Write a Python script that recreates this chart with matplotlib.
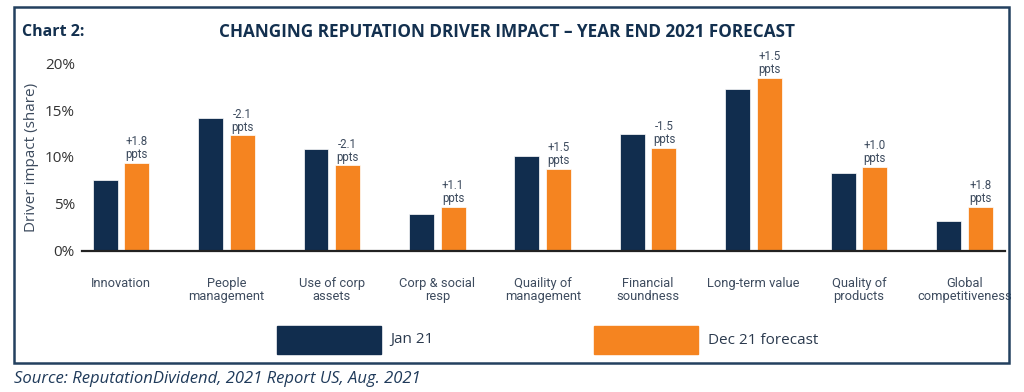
import matplotlib
matplotlib.use("Agg")
import matplotlib.pyplot as plt
from matplotlib.patches import Rectangle
import numpy as np

# data
categories = ["Innovation", "People\nmanagement", "Use of corp\nassets", "Corp & social\nresp",
              "Quaility of\nmanagement", "Financial\nsoundness", "Long-term value",
              "Quality of\nproducts", "Global\ncompetitiveness"]
jan21 = [7.6, 14.2, 10.8, 3.9, 10.1, 12.4, 17.2, 8.3, 3.2]
dec21 = [9.4, 12.3, 9.1, 4.7, 8.7, 11.0, 18.4, 8.9, 4.7]
changes = ["+1.8", "-2.1", "-2.1", "+1.1", "+1.5", "-1.5", "+1.5", "+1.0", "+1.8"]
yticks = [0, 5, 10, 15, 20]

NAVY = "#112d4e"
ORANGE = "#f58420"
TXT = "#3d4b5e"
narrow = ["Roboto", "DejaVu Sans"]

plt.rcParams["font.family"] = ["Open Sans", "DejaVu Sans"]

fig = plt.figure(figsize=(10.24, 3.92), dpi=100)
ax = fig.add_axes([0.080, 0.360, 0.901, 0.479])

x = np.arange(len(categories))
w = 0.237
ax.bar(x - 0.15, jan21, w, color=NAVY, edgecolor="white", linewidth=0.5, label="Jan 21")
ax.bar(x + 0.15, dec21, w, color=ORANGE, edgecolor="white", linewidth=0.5, label="Dec 21 forecast")

# change labels above the forecast bars
for i in range(len(categories)):
    ax.text(x[i] + 0.15, dec21[i] + 0.2, changes[i] + "\nppts", ha="center", va="bottom",
            fontsize=8.3, color=TXT, family=narrow, linespacing=1.0)

ax.set_xlim(-0.37, 8.38)
ax.set_ylim(0, 20)
ax.set_yticks(yticks)
ax.set_yticklabels([f"{t}%" for t in yticks], fontsize=11, color="#333333")
ax.set_xticks(x)
ax.set_xticklabels(categories, fontsize=9.3, color=TXT, family=narrow, linespacing=1.0)
ax.tick_params(length=0, pad=5)
ax.tick_params(axis="x", pad=19)
for s in ["top", "right", "left"]:
    ax.spines[s].set_visible(False)
ax.spines["bottom"].set_linewidth(1.6)
ax.spines["bottom"].set_color("#222222")
ax.set_ylabel("Driver impact (share)", fontsize=11, color=TXT)
ax.yaxis.set_label_coords(-0.046, 0.5)

# legend drawn by hand as boxes below the axis
fig.patches.append(Rectangle((277 / 1024, 1 - 354 / 392), 104 / 1024, 28 / 392,
                             transform=fig.transFigure, color=NAVY))
fig.text(390 / 1024, 1 - 340 / 392, "Jan 21", fontsize=11, color="#2b3a4e", va="center")
fig.patches.append(Rectangle((594 / 1024, 1 - 354 / 392), 104 / 1024, 28 / 392,
                             transform=fig.transFigure, color=ORANGE))
fig.text(708 / 1024, 1 - 340 / 392, "Dec 21 forecast", fontsize=11, color="#2b3a4e", va="center")

# titles
fig.text(22 / 1024, 1 - 32 / 392, "Chart 2:", fontsize=11.5, fontweight="bold", color="#13304f", va="center")
fig.text(507 / 1024, 1 - 32 / 392, "CHANGING REPUTATION DRIVER IMPACT \u2013 YEAR END 2021 FORECAST",
         fontsize=12.3, fontweight="bold", color="#13304f", ha="center", va="center")

# frame around the chart
fig.patches.append(Rectangle((14 / 1024, 1 - 363 / 392), 995 / 1024, 356 / 392,
                             transform=fig.transFigure, fill=False, edgecolor="#23405f", linewidth=1.8))

fig.text(14 / 1024, 1 - 379 / 392, "Source: ReputationDividend, 2021 Report US, Aug. 2021",
         fontsize=12, fontstyle="italic", color="#1f3a5a", va="center")

fig.savefig("out.png", dpi=100)
